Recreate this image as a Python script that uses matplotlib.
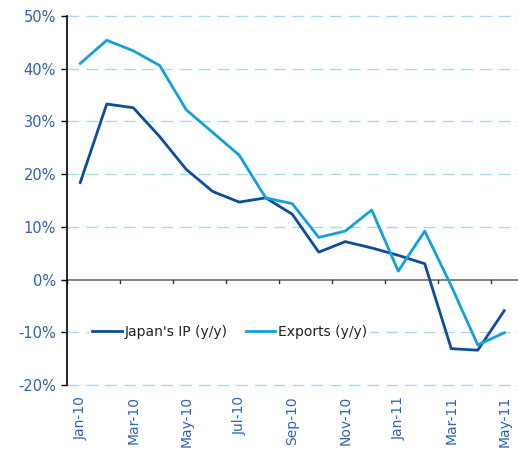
import numpy as np
import matplotlib.pyplot as plt
import matplotlib.ticker as tck

months = ['Jan-10', 'Feb-10', 'Mar-10', 'Apr-10', 'May-10', 'Jun-10', 'Jul-10', 'Aug-10',
          'Sep-10', 'Oct-10', 'Nov-10', 'Dec-10', 'Jan-11', 'Feb-11', 'Mar-11', 'Apr-11', 'May-11']
japan_ip = [18.4, 33.3, 32.6, 27.1, 20.9, 16.7, 14.7, 15.5, 12.4, 5.2, 7.2, 6.0, 4.6, 3.0, -13.1, -13.4, -5.9]
exports = [41.0, 45.4, 43.4, 40.6, 32.2, 27.9, 23.6, 15.5, 14.4, 8.0, 9.2, 13.2, 1.6, 9.2, -1.2, -12.4, -10.1]

dark = '#0B4C9E'
light = '#12A0DD'
lbl = '#2F62B0'

x = np.arange(len(months))

fig = plt.figure(figsize=(5.18, 4.5), dpi=100)
ax = fig.add_axes([67/518, 1-385/450, (517.5-67)/518, (385-16)/450])

# gridlines (dashed, light blue), skip 0
for v in [-20, -10, 10, 20, 30, 40, 50]:
    ax.axhline(v, color='#A6D9F2', lw=1, ls=(0, (8.5, 5)), zorder=0, clip_on=False)
ax.axhline(0, color='#6b6b6b', lw=1.2, zorder=1)

ax.plot(x, japan_ip, color=dark, lw=2, label="Japan's IP (y/y)", zorder=3)
ax.plot(x, exports, color=light, lw=2, label='Exports (y/y)', zorder=3)

# small ticks on the zero line between category pairs
for b in np.arange(-0.5, 16.6, 2):
    ax.plot([b, b], [0, -0.6], color='#333333', lw=1, zorder=2, clip_on=False)

ax.set_xlim(-0.5, 16.5)
ax.set_ylim(-20, 50)
ax.set_yticks(np.arange(-20, 51, 10))
ax.yaxis.set_major_formatter(tck.FuncFormatter(lambda v, p: '%d%%' % v))
ax.set_xticks(x[::2])
ax.set_xticklabels(months[::2], rotation=90)
ax.tick_params(axis='x', length=0, pad=8, labelcolor=lbl, labelsize=10)
ax.tick_params(axis='y', length=4, width=1, direction='out', pad=4, labelcolor=lbl, labelsize=10.5)

for s in ['top', 'right', 'bottom']:
    ax.spines[s].set_visible(False)
ax.spines['left'].set_color('black')
ax.spines['left'].set_linewidth(1.2)

leg = ax.legend(loc='center left', bbox_to_anchor=(0.049, 0.143), ncol=2, frameon=True,
                fancybox=False, edgecolor='none', facecolor='white', framealpha=1,
                fontsize=10, handlelength=2.15, handletextpad=0.2, columnspacing=1.3,
                borderpad=0.2, borderaxespad=0)
for t in leg.get_texts():
    t.set_color('#222222')

plt.savefig('out.png', dpi=100)
